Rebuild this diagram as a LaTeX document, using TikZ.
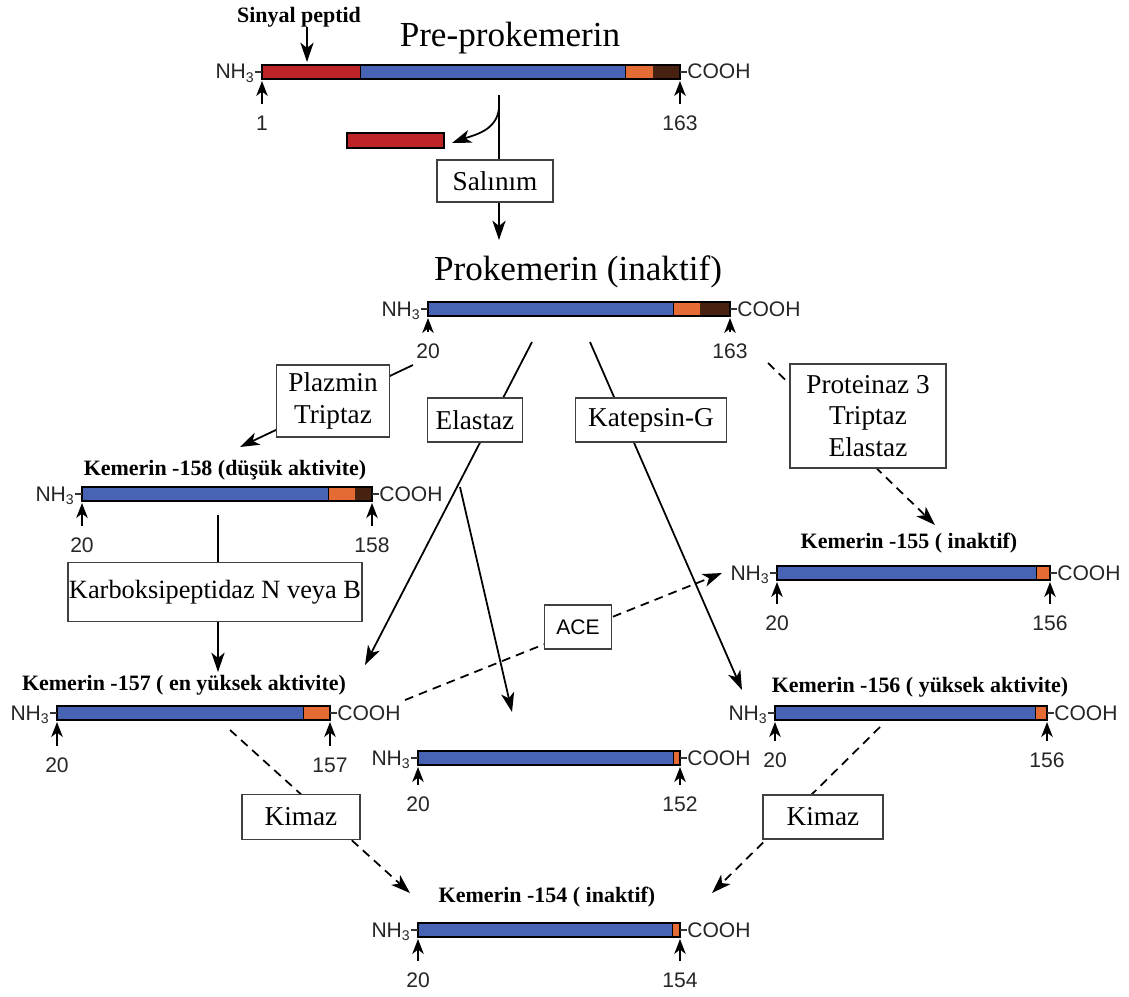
\documentclass[tikz,border=0pt]{standalone}
\usepackage{fontspec}
\setmainfont{Liberation Serif}
\setsansfont{Liberation Sans}
\usepackage{tikz}
\usetikzlibrary{shapes,arrows.meta}
\definecolor{pepred}{RGB}{190,35,40}
\definecolor{pepblue}{RGB}{72,98,180}
\definecolor{peporange}{RGB}{228,108,52}
\definecolor{pepbrown}{RGB}{72,34,16}

\begin{document}
\begin{tikzpicture}[x=0.02cm, y=-0.02cm,
    enz/.style={draw=black!75, fill=white, line width=0.8pt, font=\fontsize{15.5}{18}\selectfont, align=center, inner sep=0pt},
    lab/.style={font=\sffamily\fontsize{12}{14}\selectfont, inner sep=0pt, text=black!85},
    ttl/.style={font=\bfseries\fontsize{12.5}{15}\selectfont, inner sep=0pt},
    big/.style={font=\fontsize{20}{24}\selectfont, inner sep=0pt},
    flow/.style={line width=1pt, -{Stealth[length=11pt,width=7.5pt,inset=3pt]}},
    cut/.style={flow, dash pattern=on 5pt off 3.5pt},
    tick/.style={line width=1pt, -{Stealth[length=8.5pt,width=6.5pt,inset=2.5pt]}}]

    \useasboundingbox (0,0) rectangle (1129,997);

%titles
    \node[big] (tpre) at (510,38) {Pre-prokemerin};
    \node[ttl] (sinyal) at (299,17) {Sinyal peptid};
    \node[big] (tpro) at (578,272) {Prokemerin (inaktif)};
    \node[ttl] (t158) at (225,470) {Kemerin -158 (düşük aktivite)};
    \node[ttl] (t155) at (909,543) {Kemerin -155 ( inaktif)};
    \node[ttl] (t157) at (184,685) {Kemerin -157 ( en yüksek aktivite)};
    \node[ttl] (t156) at (920,687) {Kemerin -156 ( yüksek aktivite)};
    \node[ttl] (t154) at (547,897) {Kemerin -154 ( inaktif)};

%bars: name/start/end red/start orange/start brown/end/y/first/last/number gap
    \foreach \n/\xa/\xr/\xo/\xbr/\xb/\yc/\na/\nb/\dn in {
        pre/262/360/625/653/680/72/1/163/51,
        pro/428/428/673/700/730/309/20/163/42,
        k158/82/82/328/355/372/494/20/158/51,
        k155/777/777/1036/1050/1050/573/20/156/50,
        k157/57/57/303/330/330/713/20/157/52,
        k152/418/418/673/680/680/758/20/152/46,
        k156/775/775/1035/1047/1047/713/20/156/47,
        k154/418/418/672/680/680/930/20/154/50} {
        \fill[pepred] (\xa,\yc-7) rectangle (\xr,\yc+7);
        \fill[pepblue] (\xr,\yc-7) rectangle (\xo,\yc+7);
        \fill[peporange] (\xo,\yc-7) rectangle (\xbr,\yc+7);
        \fill[pepbrown] (\xbr,\yc-7) rectangle (\xb,\yc+7);
        \draw[line width=0.5pt] (\xr,\yc-7) -- (\xr,\yc+7) (\xo,\yc-7) -- (\xo,\yc+7);
        \draw[line width=0.8pt] (\xa,\yc-7) rectangle (\xb,\yc+7);
        \draw[line width=0.7pt, black!80] (\xa-7,\yc) -- (\xa,\yc) (\xb,\yc) -- (\xb+7,\yc);
        \node[lab, anchor=base east] (nh\n) at (\xa-7,\yc+7) {NH\textsubscript{3}};
        \node[lab, anchor=base west] (co\n) at (\xb+7,\yc+7) {COOH};
        \draw[tick] (\xa,\yc+\dn-19) -- (\xa,\yc+9);
        \draw[tick] (\xb,\yc+\dn-19) -- (\xb,\yc+9);
        \node[lab] (na\n) at (\xa,\yc+\dn) {\na};
        \node[lab] (nb\n) at (\xb,\yc+\dn) {\nb};
    }

%released signal peptide
    \fill[pepred] (347,133) rectangle (444,148);
    \draw[line width=0.8pt] (347,133) rectangle (444,148);

%connector ends
    \coordinate (sp) at (307,62);
    \coordinate (pre1) at (499,95);
    \coordinate (pre2) at (499,240);
    \coordinate (cut1) at (499,108);
    \coordinate (relb) at (452,143);
    \coordinate (pro20) at (413,365);
    \coordinate (to158) at (240,447);
    \coordinate (from158) at (218,515);
    \coordinate (to157) at (218,672);
    \coordinate (el1) at (532,342);
    \coordinate (el2) at (365,665);
    \coordinate (el3) at (460,487);
    \coordinate (el4) at (512,712);
    \coordinate (ka1) at (590,342);
    \coordinate (ka2) at (742,690);
    \coordinate (pr1) at (768,363);
    \coordinate (pr2) at (935,525);
    \coordinate (ac1) at (405,700);
    \coordinate (ac2) at (722,573);
    \coordinate (kl1) at (230,730);
    \coordinate (kl2) at (410,893);
    \coordinate (kr1) at (880,727);
    \coordinate (kr2) at (712,893);

%connectors
    \draw[flow] (sinyal.south -| sp) -- (sp);
    \draw[flow] (pre1) -- (pre2);
    \draw[flow] (cut1) to[out=-95,in=20] (relb);
    \draw[flow] (pro20) -- (to158);
    \draw[flow] (from158) -- (to157);
    \draw[flow] (el1) -- (el2);
    \draw[flow] (el3) -- (el4);
    \draw[flow] (ka1) -- (ka2);
    \draw[cut] (pr1) -- (pr2);
    \draw[cut] (ac1) -- (ac2);
    \draw[cut] (kl1) -- (kl2);
    \draw[cut] (kr1) -- (kr2);

%enzyme boxes
    \node[enz, minimum width=116*0.02cm, minimum height=42*0.02cm] (salinim) at (495,181) {Salınım};
    \node[enz, minimum width=113*0.02cm, minimum height=72*0.02cm] (plazmin) at (333,401) {Plazmin\\Triptaz};
    \node[enz, minimum width=95*0.02cm, minimum height=44*0.02cm] (elastaz) at (475,420) {Elastaz};
    \node[enz, minimum width=151*0.02cm, minimum height=44*0.02cm] (katepsin) at (651,420) {Katepsin-G};
    \node[enz, minimum width=156*0.02cm, minimum height=104*0.02cm] (proteinaz) at (868,416) {Proteinaz 3\\Triptaz\\Elastaz};
    \node[enz, font=\fontsize{15}{17}\selectfont, minimum width=294*0.02cm, minimum height=59*0.02cm] (karboksi) at (215,592) {Karboksipeptidaz N veya B};
    \node[enz, font=\sffamily\fontsize{12}{14}\selectfont, minimum width=67*0.02cm, minimum height=44*0.02cm] (ace) at (578,627) {ACE};
    \node[enz, minimum width=118*0.02cm, minimum height=45*0.02cm] (kimazL) at (301,817) {Kimaz};
    \node[enz, minimum width=120*0.02cm, minimum height=44*0.02cm] (kimazR) at (823,817) {Kimaz};

\end{tikzpicture}
\end{document}
